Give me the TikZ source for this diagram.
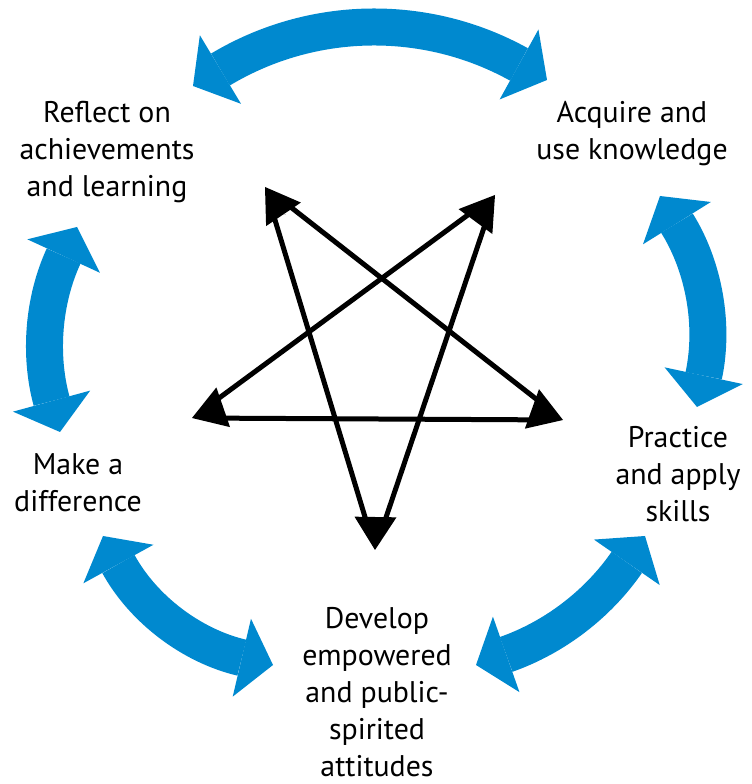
\documentclass[tikz,border=0pt]{standalone}
\usepackage{fontspec}
\setmainfont{PT Sans}
\usetikzlibrary{arrows.meta,positioning,calc}
\definecolor{cycleblue}{RGB}{0,137,207}
\tikzset{
	stage/.style = {align=center, font=\fontsize{17}{21}\selectfont, inner sep=0pt},
	cyclearrow/.style = {cycleblue, line width=0.74cm, {Triangle[width=1.6cm, length=0.64cm, line width=0pt]}-{Triangle[width=1.6cm, length=0.64cm, line width=0pt]}},
	starline/.style = {black, line width=0.1cm, shorten <=0.4cm, shorten >=0.4cm},
	starhead/.style = {black, line width=0.1cm, -{Triangle[width=0.84cm, length=0.66cm, line width=0pt]}}
}

\begin{document}
\begin{tikzpicture}[x=0.02cm,y=0.02cm]
	\useasboundingbox (0,0) rectangle (751,784);
	% stages
	\node[stage] (reflect) at (107,632) {Reflect on\\achievements\\and learning};
	\node[stage] (acquire) at (632,650) {Acquire and\\use knowledge};
	\node[stage] (practice) at (678,310) {Practice\\and apply\\skills};
	\node[stage] (develop) at (377,92) {Develop\\empowered\\and public-\\spirited\\attitudes};
	\node[stage] (differ) at (78,301) {Make a\\difference};
	% ends of the blue arrows
	\coordinate (top-l) at (193,698);
	\coordinate (top-r) at (547,704);
	\coordinate (right-t) at (660,588);
	\coordinate (right-b) at (697,377);
	\coordinate (left-t) at (77,557);
	\coordinate (left-b) at (60,352);
	\coordinate (low-l1) at (103,248);
	\coordinate (low-l2) at (273,119);
	\coordinate (low-r1) at (476,119);
	\coordinate (low-r2) at (645,248);
	\draw[cyclearrow] (top-l) to[bend left=30] (top-r);
	\draw[cyclearrow] (right-t) to[bend left=22] (right-b);
	\draw[cyclearrow] (left-t) to[bend right=20] (left-b);
	\draw[cyclearrow] (low-l1) to[bend right=24] (low-l2);
	\draw[cyclearrow] (low-r1) to[bend right=18] (low-r2);
	% star
	\coordinate (s-tl) at (265,597);
	\coordinate (s-tr) at (495,589);
	\coordinate (s-r) at (563,364);
	\coordinate (s-b) at (375,234);
	\coordinate (s-l) at (192,366);
	\coordinate (s-c) at (378,430);
	\draw[starline] (s-l) -- (s-r);
	\draw[starline] (s-tl) -- (s-r);
	\draw[starline] (s-tr) -- (s-l);
	\draw[starline] (s-tl) -- (s-b);
	\draw[starline] (s-tr) -- (s-b);
	\foreach \tip in {s-tl,s-tr,s-r,s-b,s-l}
		\draw[starhead] ($(\tip)!0.66cm!(s-c)$) -- (\tip);
\end{tikzpicture}
\end{document}
